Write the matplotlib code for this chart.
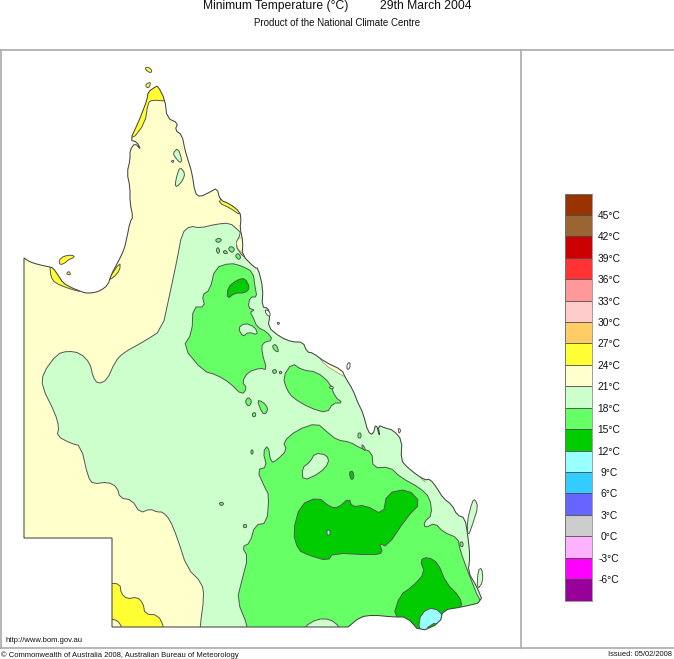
import matplotlib
matplotlib.use("Agg")
import matplotlib.pyplot as plt
from matplotlib.patches import Polygon

plt.rcParams['font.family'] = ['Liberation Sans', 'DejaVu Sans']

# Colour scale
levels = [48, 45, 42, 39, 36, 33, 30, 27, 24, 21, 18, 15, 12, 9, 6, 3, 0, -3, -6, -9]
scale_colors = ['#993300', '#996633', '#CC0000', '#FF3333', '#FF9999', '#FFCCCC', '#FFCC66',
                '#FFFF33', '#FFFFCC', '#CCFFCC', '#66FF66', '#00CC00', '#99FFFF', '#33CCFF',
                '#6666FF', '#CCCCCC', '#FFB3FF', '#FF00FF', '#990099']

# Digitised map outlines, in map units
coast = [(24, 258), (30, 262), (40, 265), (50, 267), (53, 268), (58, 275), (63, 283), (72, 288), (80, 291), (85, 293),
         (92, 293), (100, 291), (108, 285), (111, 275), (118, 262), (124, 250), (127, 237), (130, 222),
         (133, 217), (130, 203), (130, 187), (127, 173), (130, 160), (130, 150), (135, 143), (141, 150), (137, 142),
         (130, 140), (138, 123), (142, 113), (147, 100), (148, 92), (155, 87), (158, 86), (165, 100),
         (167, 118), (178, 123), (175, 130), (182, 135), (185, 150), (188, 160), (192, 173), (195, 193),
         (200, 197), (210, 192), (217, 188), (220, 200), (230, 204), (240, 212), (241, 220), (240, 228),
         (243, 242), (242, 255), (255, 268), (258, 268), (263, 288), (262, 307), (268, 308), (270, 315),
         (268, 327), (280, 337), (292, 342), (303, 342), (307, 352), (313, 353), (325, 362), (342, 370),
         (345, 377), (353, 390), (358, 403), (363, 413), (368, 432), (373, 435), (376, 423), (380, 438),
         (378, 425), (385, 428), (393, 430), (402, 440), (401, 460), (407, 467), (417, 475), (425, 480),
         (430, 479), (437, 488), (443, 498), (452, 505), (457, 515), (465, 518), (468, 537), (470, 557),
         (468, 572), (477, 587), (483, 602), (462, 607), (443, 610), (440, 623), (420, 632), (407, 617),
         (393, 617), (373, 615), (360, 617), (348, 627)]
inland_border = [(112, 627), (112, 538), (24, 538)]
band_18_21 = [(182, 233), (190, 226), (200, 228), (217, 224), (230, 223), (238, 230), (241, 233), (235, 245),
              (243, 257), (300, 300), (500, 500), (500, 640), (200, 640), (200, 627), (204, 597), (202, 583),
              (187, 568), (177, 537), (170, 520), (163, 512), (157, 512), (150, 509), (140, 513), (132, 500),
              (120, 498), (117, 487), (108, 482), (93, 484), (88, 477), (81, 446), (70, 443), (57, 436),
              (59, 427), (55, 413), (42, 387), (43, 373), (57, 354), (68, 351), (80, 353), (90, 363),
              (93, 377), (98, 384), (107, 380), (115, 362), (123, 353), (143, 342), (162, 330), (170, 293),
              (177, 260)]
band_15_18_north = [(215, 268), (230, 263), (242, 266), (253, 272), (255, 287), (257, 297), (250, 297), (248, 308),
                    (255, 310), (250, 312), (253, 317), (257, 327), (267, 332), (273, 340), (262, 343),
                    (262, 353), (267, 370), (260, 368), (248, 372), (242, 382), (247, 388), (242, 395),
                    (230, 383), (217, 375), (203, 371), (183, 347), (192, 333), (193, 307), (205, 307),
                    (202, 295), (210, 290)]
band_15_18_east = [(283, 377), (292, 363), (302, 370), (317, 372), (330, 383), (335, 397), (343, 403), (333, 403),
                   (327, 413), (310, 408), (293, 398), (287, 390)]
band_15_18_south = [(283, 442), (297, 430), (317, 423), (327, 432), (337, 440), (350, 442), (360, 448), (372, 452),
                    (373, 468), (390, 467), (400, 477), (420, 488), (430, 498), (432, 515), (424, 522), (425, 528),
                    (435, 523), (443, 532), (458, 538), (460, 550), (468, 572), (480, 602), (490, 612), (430, 640),
                    (248, 640), (248, 627), (237, 600), (242, 580), (248, 557), (242, 547), (250, 543),
                    (255, 525), (267, 523), (269, 495), (265, 488), (257, 470), (267, 467), (263, 452),
                    (268, 445), (271, 463), (277, 460), (287, 450)]
blobs_15_18 = [[(215, 240), (219, 238), (222, 240), (218, 243)], [(216, 250), (218, 247), (220, 251), (218, 254)],
               [(223, 252), (225, 250), (228, 253), (225, 254)], [(228, 249), (231, 246), (235, 249), (232, 253)],
               [(235, 256), (238, 253), (241, 257), (239, 260)], [(272, 346), (276, 344), (279, 352), (275, 351)],
               [(272, 371), (275, 369), (277, 372), (274, 374)], [(279, 372), (281, 371), (282, 373), (280, 374)],
               [(245, 402), (248, 397), (252, 401), (249, 407)], [(257, 400), (263, 402), (268, 408), (266, 414), (262, 413)],
               [(252, 414), (255, 412), (256, 416), (253, 417)], [(219, 503), (222, 502), (224, 504), (221, 506)],
               [(243, 525), (246, 524), (247, 527), (244, 528)],
               [(358, 433), (361, 433), (361, 438), (358, 438)], [(362, 444), (365, 448), (365, 451), (362, 448)],
               [(251, 450), (253, 450), (253, 454), (251, 454)], [(460, 542), (463, 542), (463, 547), (460, 546)]]
holes_18_21 = [[(238, 328), (245, 323), (255, 327), (258, 335), (248, 332), (243, 337)],
               [(302, 468), (310, 462), (315, 453), (327, 455), (329, 463), (320, 473), (303, 481)],
               [(304, 627), (317, 619), (330, 619), (340, 627), (340, 640), (304, 640)],
               [(329, 387), (332, 386), (334, 388), (331, 389)]]
band_12_15 = [[(228, 287), (237, 280), (245, 278), (250, 288), (245, 293), (235, 293), (227, 299)],
              [(300, 505), (318, 497), (330, 507), (338, 508), (349, 498), (352, 507), (365, 505), (383, 515),
               (387, 493), (408, 489), (421, 503), (407, 517), (387, 547), (379, 543), (383, 553), (373, 555),
               (333, 553), (328, 561), (308, 555), (298, 550), (293, 532)],
              [(420, 560), (428, 557), (438, 563), (446, 583), (460, 597), (462, 607), (445, 640), (420, 640),
               (393, 617), (400, 595), (412, 587), (425, 573)],
              [(349, 472), (353, 471), (354, 478), (351, 480)]]
band_9_12 = [[(427, 608), (440, 610), (445, 625), (430, 623), (422, 640), (418, 620)],
             [(327, 530), (330, 530), (330, 535), (327, 535)]]
band_24_27 = [[(165, 101), (152, 100), (148, 103), (145, 123), (132, 140), (120, 135), (140, 90), (160, 80), (172, 100)],
              [(50, 260), (50, 268), (51, 277), (55, 283), (70, 289), (82, 292), (90, 280)],
              [(108, 280), (120, 262), (120, 270), (113, 278)],
              [(221, 198), (227, 199), (245, 212), (240, 215), (230, 208), (219, 203)],
              [(108, 583), (120, 584), (121, 593), (127, 599), (137, 597), (143, 603), (145, 614), (158, 615),
               (164, 627), (164, 640), (122, 640), (122, 627), (117, 620), (108, 619)]]
islands_24_27 = [[(145, 68), (148, 67), (152, 70), (151, 73), (147, 71)], [(146, 84), (151, 82), (149, 88), (146, 87)],
                 [(59, 260), (64, 256), (72, 255), (75, 257), (68, 260), (65, 263), (60, 265)],
                 [(66, 274), (69, 271), (71, 275)]]
islands_18_21 = [[(472, 502), (475, 499), (478, 507), (473, 523), (468, 537), (467, 522)],
                 [(478, 570), (482, 568), (483, 582), (477, 590)]]
islands_other = [[(347, 364), (350, 362), (350, 368), (347, 370)], [(265, 309), (270, 312), (270, 317), (266, 314)],
                 [(277, 322), (280, 323), (278, 325)], [(398, 428), (401, 430), (399, 434)]]
lakes_18_21 = [[(173, 153), (178, 148), (182, 160), (180, 163), (175, 157)], [(171, 161), (174, 160), (173, 163)],
               [(175, 185), (177, 175), (180, 167), (185, 173), (183, 180), (177, 187)]]
cream_patches = [[(318, 356), (328, 358), (345, 368), (347, 378), (338, 373), (325, 365)],
                 [(235, 245), (240, 236), (246, 243), (246, 258)],
                 [(418, 473), (422, 472), (426, 482), (422, 480)]]


def smooth(points, rounds=1, closed=True):
    """Corner rounding for drawing the outlines: no values are added, only corners are cut."""
    pts = list(points)
    for _ in range(rounds):
        out = [pts[0]] if not closed else []
        n = len(pts) if closed else len(pts) - 1
        for i in range(n):
            a, b = pts[i], pts[(i + 1) % len(pts)]
            out.append((0.75 * a[0] + 0.25 * b[0], 0.75 * a[1] + 0.25 * b[1]))
            out.append((0.25 * a[0] + 0.75 * b[0], 0.25 * a[1] + 0.75 * b[1]))
        if not closed:
            out.append(pts[-1])
        pts = out
    return pts


fig = plt.figure(figsize=(6.74, 6.59), dpi=100)
ax = fig.add_axes([0, 0, 1, 1])
ax.set_xlim(0, 674)
ax.set_ylim(659, 0)
ax.axis('off')

edge = '#555555'
state = smooth(coast, 1, closed=False) + inland_border
state_patch = Polygon(state, closed=True, facecolor='#FFFFCC', edgecolor='none', zorder=1)
ax.add_patch(state_patch)


def fill(points, color, z=2, clip=True, lw=0.7, rounds=1):
    p = Polygon(smooth(points, rounds), closed=True, facecolor=color, edgecolor=edge, linewidth=lw, zorder=z)
    ax.add_patch(p)
    if clip:
        p.set_clip_path(state_patch)
    return p


fill(band_18_21, '#CCFFCC', 2)
for poly in band_24_27:
    fill(poly, '#FFFF33', 3)
for poly in cream_patches:
    fill(poly, '#FFFFCC', 3, lw=0.3)
for poly in lakes_18_21:
    fill(poly, '#CCFFCC', 3)
for poly in [band_15_18_north, band_15_18_east, band_15_18_south] + blobs_15_18:
    fill(poly, '#66FF66', 4)
for poly in holes_18_21:
    fill(poly, '#CCFFCC', 5)
for poly in band_12_15:
    fill(poly, '#00CC00', 6)
for poly in band_9_12:
    fill(poly, '#99FFFF', 7)
ax.add_patch(Polygon(state, closed=True, facecolor='none', edgecolor='#444444', linewidth=0.75, zorder=9))
for poly in islands_24_27:
    fill(poly, '#FFFF33', 9, clip=False)
for poly in islands_18_21:
    fill(poly, '#CCFFCC', 9, clip=False)
for poly in islands_other:
    fill(poly, 'white', 9, clip=False)

# Frame
frame = '#AAAAAA'
ax.plot([0, 674], [50, 50], color=frame, lw=1.2, zorder=10)
ax.plot([0, 674], [648, 648], color=frame, lw=1.2, zorder=10)
ax.plot([0.5, 0.5], [50, 648], color=frame, lw=1.2, zorder=10)
ax.plot([520.5, 520.5], [50, 648], color=frame, lw=1.2, zorder=10)

# Texts
ax.text(203, 6, 'Minimum Temperature (°C)', fontsize=8.7, va='center', ha='left', color='#111111')
ax.text(380, 6, '29th March 2004', fontsize=8.7, va='center', ha='left', color='#111111')
ax.text(337, 23.5, 'Product of the National Climate Centre', fontsize=7.05, va='center', ha='center', color='#111111')
ax.text(5, 641, 'http://www.bom.gov.au', fontsize=5.5, va='center', ha='left', color='#111111')
ax.text(1, 655, '© Commonwealth of Australia 2008, Australian Bureau of Meteorology', fontsize=5.47, va='center',
        ha='left', color='#111111')
ax.text(672, 655, 'Issued: 05/02/2008', fontsize=5.4, va='center', ha='right', color='#111111')

# Colour bar
top, bottom = 193.5, 600.5
cax = fig.add_axes([565 / 674, 1 - bottom / 659, 27 / 674, (bottom - top) / 659])
for i, c in enumerate(scale_colors):
    cax.bar(0, levels[i] - levels[i + 1], bottom=levels[i + 1], width=1, color=c, edgecolor='#444444', linewidth=0.5)
cax.set_xlim(-0.5, 0.5)
cax.set_ylim(levels[-1], levels[0])
cax.set_xticks([])
cax.yaxis.tick_right()
tick_vals = levels[1:-1]
cax.set_yticks(tick_vals)
cax.set_yticklabels([f'{v}°C' for v in tick_vals], fontsize=7.4, ha='center', color='#111111')
cax.tick_params(axis='y', length=0, pad=12.3)
for s in cax.spines.values():
    s.set_linewidth(0.5)
    s.set_color('#777777')

fig.savefig('out.png', dpi=100, facecolor='white')
